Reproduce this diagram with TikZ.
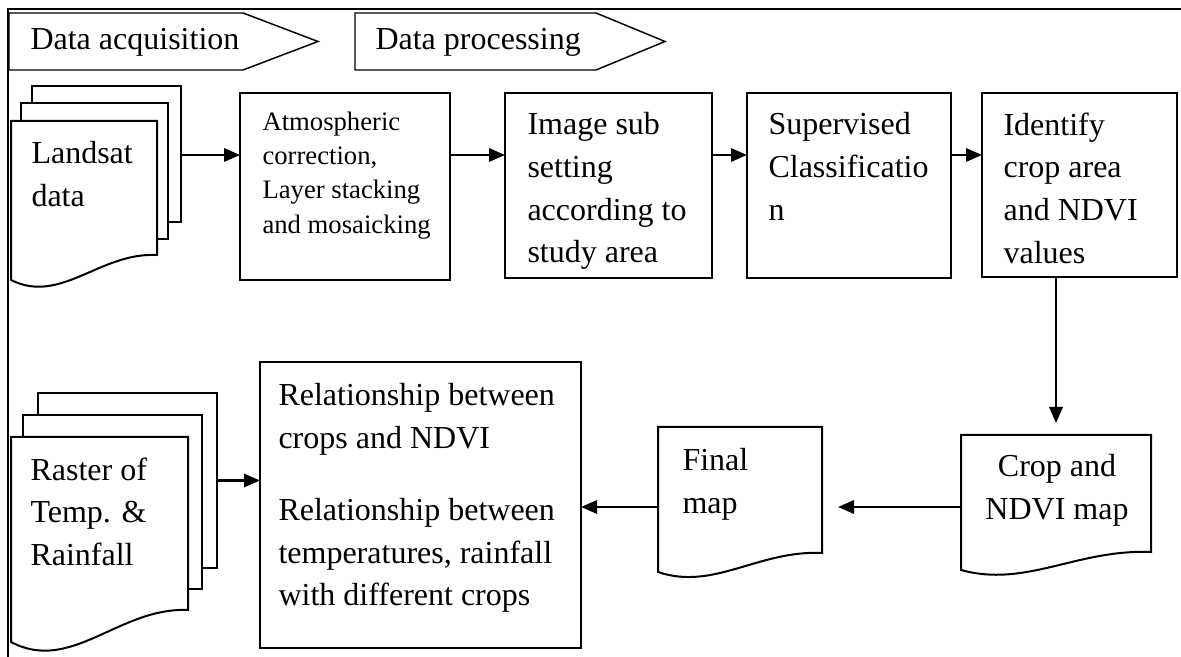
\documentclass[tikz,border=0pt]{standalone}
\usepackage{fontspec}
\setmainfont{Liberation Serif}
\usetikzlibrary{positioning, arrows.meta, calc}
\newdimen\pxu
\pxu=0.375pt
\tikzset{
  procbox/.style={draw, line width=0.75pt, fill=white, inner sep=0pt, outer sep=0pt},
  sheet/.style={draw, line width=0.75pt, fill=white, inner sep=0pt, outer sep=0pt},
  docnode/.style={inner sep=0pt, outer sep=0pt},
  boxtext/.style={anchor=north west, inner sep=0pt, align=left, font=\fontsize{12}{16}\selectfont},
  smalltext/.style={anchor=north west, inner sep=0pt, align=left, font=\fontsize{10}{12.9}\selectfont},
  bannertext/.style={anchor=base west, inner sep=0pt, font=\fontsize{12}{16}\selectfont},
  arr/.style={-{Triangle[length=6pt,width=5pt]}, line width=0.8pt},
  banner/.style={draw, line width=0.55pt},
  frameline/.style={line width=1.1pt}
}
% wavy bottom of a document sheet
\newcommand{\docoutline}[2]{%
  \draw[sheet] (#1.south west) -- (#1.north west) -- (#1.north east)
    -- ($(#1.south east)+(0,-#2)$)
    .. controls ($(#1.south east)!0.39!(#1.south west)+(0,-#2-3)$)
    and ($(#1.south east)!0.66!(#1.south west)+(0,#2)$) .. (#1.south west) -- cycle;}

\begin{document}
\begin{tikzpicture}[x=0.375pt, y=-0.375pt]
\useasboundingbox (0,0) rectangle (1181,657);

%% Frame
\draw[frameline] (8,657) -- (8,9) -- (1181,9);

%% Banners
\draw[banner] (9,13) -- (243,13) -- (318,41.5) -- (243,70) -- (9,70) -- cycle;
\draw[banner] (355,13) -- (596,13) -- (665,41.5) -- (596,70) -- (355,70) -- cycle;
\node[bannertext] (acq) at (30,50) {Data acquisition};
\node[bannertext] (proc) at (375,50) {Data processing};

%% Landsat stack
\node[sheet, minimum width=149\pxu, minimum height=136\pxu] (landB) at (106.5,154) {};
\node[sheet, minimum width=147\pxu, minimum height=136\pxu] (landM) at (94.5,171) {};
\node[docnode, minimum width=146\pxu, minimum height=159\pxu] (landF) at (84,200.5) {};
\docoutline{landF}{25}
\node[boxtext] (land-t) at (31,141) {Landsat\\data};

%% Processing boxes
\node[procbox, minimum width=210\pxu, minimum height=187\pxu] (atm) at (345,186.5) {};
\node[procbox, minimum width=207\pxu, minimum height=185\pxu] (img) at (608.5,185.5) {};
\node[procbox, minimum width=204\pxu, minimum height=185\pxu] (sup) at (849,185.5) {};
\node[procbox, minimum width=195\pxu, minimum height=184\pxu] (ident) at (1079.5,185) {};
\node[smalltext] (atm-t) at (262,111) {Atmospheric\\correction,\\Layer stacking\\and mosaicking};
\node[boxtext] (img-t) at (527,112) {Image sub\\setting\\according to\\study area};
\node[boxtext] (sup-t) at (768,112) {Supervised\\Classificatio\\n};
\node[boxtext] (ident-t) at (1003,112) {Identify\\crop area\\and NDVI\\values};

%% Maps
\node[docnode, minimum width=190\pxu, minimum height=135\pxu] (crop) at (1056,502.5) {};
\docoutline{crop}{18}
\node[boxtext, anchor=north, align=center] (crop-t) at (1057,454) {Crop and\\NDVI map};
\node[docnode, minimum width=164\pxu, minimum height=145\pxu] (final) at (740,499.5) {};
\docoutline{final}{19}
\node[boxtext] (final-t) at (682,448) {Final\\map};

%% Relationship box
\node[procbox, minimum width=321\pxu, minimum height=286\pxu] (rel) at (420.5,505) {};
\node[boxtext] (rel-t) at (278,383) {Relationship between\\crops and NDVI\\[11pt]Relationship between\\temperatures, rainfall\\with different crops};

%% Raster stack
\node[sheet, minimum width=179\pxu, minimum height=175\pxu] (rasB) at (127.5,480.5) {};
\node[sheet, minimum width=179\pxu, minimum height=174\pxu] (rasM) at (112.5,502) {};
\node[docnode, minimum width=177\pxu, minimum height=205\pxu] (rasF) at (99.5,539.5) {};
\docoutline{rasF}{32}
\node[boxtext] (ras-t) at (30,457) {Raster of\\Temp. \&\\Rainfall};

%% Arrows
\coordinate (rowA) at (0,155);
\coordinate (rowB) at (0,507);
\foreach \a/\b in {landB/atm, atm/img, img/sup, sup/ident}
  \draw[arr] (\a.east |- rowA) -- (\b.west |- rowA);
\draw[arr, shorten >=4.5pt] (crop.north |- ident.south) -- (crop.north);
\draw[arr, shorten >=6pt] (crop.west |- rowB) -- (final.east |- rowB);
\draw[arr] (final.west |- rowB) -- (rel.east |- rowB);
\draw[arr] (rasB.east) -- (rasB.east -| rel.west);

\end{tikzpicture}
\end{document}
